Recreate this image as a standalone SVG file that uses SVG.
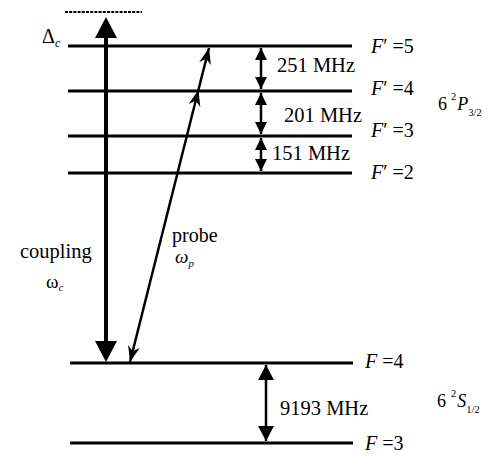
<svg xmlns="http://www.w3.org/2000/svg" width="501" height="455" viewBox="0 0 501 455">
<style>
text{font-family:"Liberation Serif","Times New Roman",serif;fill:#000}
.lvl{stroke:#000;stroke-width:3;fill:none}
.it{font-style:italic}
.lbl{font-size:20.5px}
.fl{font-size:20px}
.term{font-size:18px}
.sub{font-size:10.5px}
.arr{stroke:#000;fill:none}
</style>
<defs>
<marker id="bigHead" markerUnits="userSpaceOnUse" viewBox="-22 -12 23 24" refX="-21" refY="0" markerWidth="23" markerHeight="24" orient="auto-start-reverse">
<path d="M0,0 L-21,-11 L-21,11 Z" fill="#000"/>
</marker>
<marker id="barb" markerUnits="userSpaceOnUse" viewBox="-17 -7 18 14" refX="0" refY="0" markerWidth="18" markerHeight="14" orient="auto-start-reverse">
<path d="M0,0 L-16,-6 L-11,0 L-16,6 Z" fill="#000"/>
</marker>
<marker id="small" markerUnits="userSpaceOnUse" viewBox="-13 -7 14 14" refX="0" refY="0" markerWidth="14" markerHeight="14" orient="auto-start-reverse">
<path d="M0,0 L-12,-6 L-12,6 Z" fill="#000"/>
</marker>
<marker id="mid" markerUnits="userSpaceOnUse" viewBox="-16 -9 17 18" refX="0" refY="0" markerWidth="17" markerHeight="18" orient="auto-start-reverse">
<path d="M0,0 L-15,-8 L-15,8 Z" fill="#000"/>
</marker>
</defs>

<g id="levels">
<line id="virtual" x1="65" y1="12" x2="142" y2="12" stroke="#000" stroke-width="2.2" stroke-dasharray="3,1.2"/>
<g id="Fp5"><line class="lvl" x1="68" y1="46" x2="352" y2="46"/><text class="fl" x="371" y="53"><tspan class="it">F</tspan>′ =5</text></g>
<g id="Fp4"><line class="lvl" x1="68" y1="91" x2="352" y2="91"/><text class="fl" x="371" y="95"><tspan class="it">F</tspan>′ =4</text></g>
<g id="Fp3"><line class="lvl" x1="68" y1="136" x2="352" y2="136"/><text class="fl" x="371" y="137"><tspan class="it">F</tspan>′ =3</text></g>
<g id="Fp2"><line class="lvl" x1="68" y1="173" x2="352" y2="173"/><text class="fl" x="371" y="179"><tspan class="it">F</tspan>′ =2</text></g>
<g id="F4"><line class="lvl" x1="70" y1="363" x2="353" y2="363"/><text class="fl" x="365" y="368"><tspan class="it">F</tspan> =4</text></g>
<g id="F3"><line class="lvl" x1="70" y1="443" x2="353" y2="443"/><text class="fl" x="365" y="450"><tspan class="it">F</tspan> =3</text></g>
</g>

<g id="terms">
<text class="term" x="438" y="110">6<tspan class="sub" dy="-10" dx="4">2</tspan><tspan class="it" dy="10" dx="1">P</tspan><tspan class="sub" dy="6">3/2</tspan></text>
<text class="term" x="437" y="407">6<tspan class="sub" dy="-10" dx="5">2</tspan><tspan class="it" dy="10" dx="1">S</tspan><tspan class="sub" dy="6">1/2</tspan></text>
</g>

<g id="connectors">
<line id="coupling" class="arr" x1="106" y1="341" x2="106" y2="38" stroke-width="4" marker-start="url(#bigHead)" marker-end="url(#bigHead)"/>
<path id="probe1" class="arr" d="M130,362 L198.4,90" stroke-width="2.5" marker-start="url(#barb)" marker-end="url(#barb)"/>
<path id="probe2" class="arr" d="M198.4,90 L209,48" stroke-width="2.5" marker-end="url(#barb)"/>
<line class="arr" x1="261" y1="48" x2="261" y2="89" stroke-width="2.5" marker-start="url(#small)" marker-end="url(#small)"/>
<line class="arr" x1="261" y1="93" x2="261" y2="134" stroke-width="2.5" marker-start="url(#small)" marker-end="url(#small)"/>
<line class="arr" x1="261" y1="138" x2="261" y2="171" stroke-width="2.5" marker-start="url(#small)" marker-end="url(#small)"/>
<line class="arr" x1="266" y1="365" x2="266" y2="441" stroke-width="2.5" marker-start="url(#mid)" marker-end="url(#mid)"/>
</g>

<g id="labels">
<text x="42" y="43" font-size="20px">Δ<tspan class="it" font-size="12px" dy="4">c</tspan></text>
<text x="20" y="258" font-size="20.5px">coupling</text>
<text x="46" y="288" font-size="19px">ω<tspan class="it" font-size="11px" dy="3">c</tspan></text>
<text x="172" y="242" font-size="20px">probe</text>
<text x="175" y="263" font-size="19px" class="it">ω<tspan font-size="11px" dy="4">p</tspan></text>
<text class="lbl" x="277" y="72">251 MHz</text>
<text class="lbl" x="284" y="122">201 MHz</text>
<text class="lbl" x="272" y="160">151 MHz</text>
<text class="lbl" x="280" y="415">9193 MHz</text>
</g>
</svg>
